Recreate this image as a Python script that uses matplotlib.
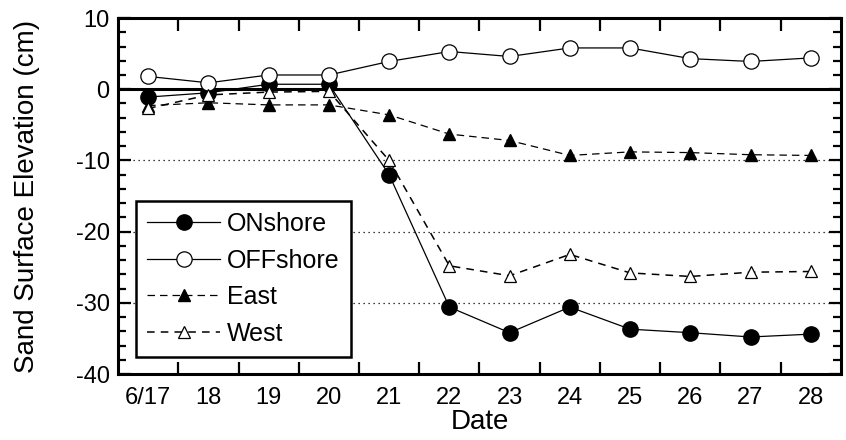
import matplotlib
matplotlib.use('Agg')
import matplotlib.pyplot as plt
from matplotlib.ticker import MultipleLocator, FixedLocator

plt.rcParams['font.family'] = ['Liberation Sans', 'DejaVu Sans']
plt.rcParams['axes.unicode_minus'] = False

dates = ['6/17', '18', '19', '20', '21', '22', '23', '24', '25', '26', '27', '28']
onshore = [-1.1, -0.5, 0.7, 0.7, -12.0, -30.6, -34.2, -30.6, -33.7, -34.2, -34.8, -34.4]
offshore = [1.8, 0.9, 2.0, 2.0, 3.9, 5.3, 4.6, 5.8, 5.8, 4.3, 3.9, 4.4]
east = [-2.3, -1.9, -2.2, -2.2, -3.6, -6.3, -7.2, -9.3, -8.8, -8.9, -9.2, -9.3]
west = [-2.7, -0.8, -0.4, -0.3, -10.0, -24.8, -26.2, -23.2, -25.8, -26.3, -25.7, -25.6]

fig = plt.figure(figsize=(8.46, 4.4), dpi=100)
ax = fig.add_axes([0.1395, 0.15, 0.8545, 0.809])
x = range(len(dates))

for lev in [-10, -20, -30]:
    ax.axhline(lev, color='black', linestyle=(0, (1, 3)), linewidth=0.9, zorder=1)
ax.axhline(0, color='black', linewidth=2.2, zorder=1)

ax.plot(x, onshore, '-', color='black', linewidth=0.9, marker='o', markersize=11,
        markerfacecolor='black', markeredgecolor='black', label='ONshore', zorder=3)
ax.plot(x, offshore, '-', color='black', linewidth=0.9, marker='o', markersize=11,
        markerfacecolor='white', markeredgecolor='black', markeredgewidth=0.9,
        label='OFFshore', zorder=3)
ax.plot(x, east, color='black', linewidth=0.9, linestyle=(0, (6, 4)), marker='^',
        markersize=9, markerfacecolor='black', markeredgecolor='black',
        label='East', zorder=4)
ax.plot(x, west, color='black', linewidth=1.1, linestyle=(0, (5, 4)), marker='^',
        markersize=9, markerfacecolor='white', markeredgecolor='black',
        markeredgewidth=0.9, label='West', zorder=4)

ax.set_xlim(-0.5, 11.5)
ax.set_ylim(-40, 10)
ax.set_xticks(list(x))
ax.set_xticklabels(dates)
ax.xaxis.set_minor_locator(FixedLocator([i + 0.5 for i in range(11)]))
ax.yaxis.set_major_locator(MultipleLocator(10))
ax.yaxis.set_minor_locator(MultipleLocator(2))

ax.tick_params(axis='x', which='major', length=0, labelsize=17, pad=9)
ax.tick_params(axis='x', which='minor', direction='in', length=9, width=1.6,
               top=True, bottom=True)
ax.tick_params(axis='y', which='major', direction='in', length=9, width=1.6,
               left=True, right=True, labelsize=17, pad=6)
ax.tick_params(axis='y', which='minor', direction='in', length=6, width=1.6,
               left=True, right=True)
for s in ax.spines.values():
    s.set_linewidth(2.2)

ax.set_xlabel('Date', fontsize=20, labelpad=0)
ax.set_ylabel('Sand Surface Elevation (cm)', fontsize=20, labelpad=26)

leg = ax.legend(loc='lower left', bbox_to_anchor=(0.025, 0.048), borderaxespad=0,
                fontsize=18, numpoints=1, handlelength=2.9, handletextpad=0.3,
                labelspacing=0.5, borderpad=0.45, fancybox=False, framealpha=1)
leg.get_frame().set_edgecolor('black')
leg.get_frame().set_linewidth(1.8)
leg.set_zorder(10)

fig.savefig('out.png', dpi=100)
